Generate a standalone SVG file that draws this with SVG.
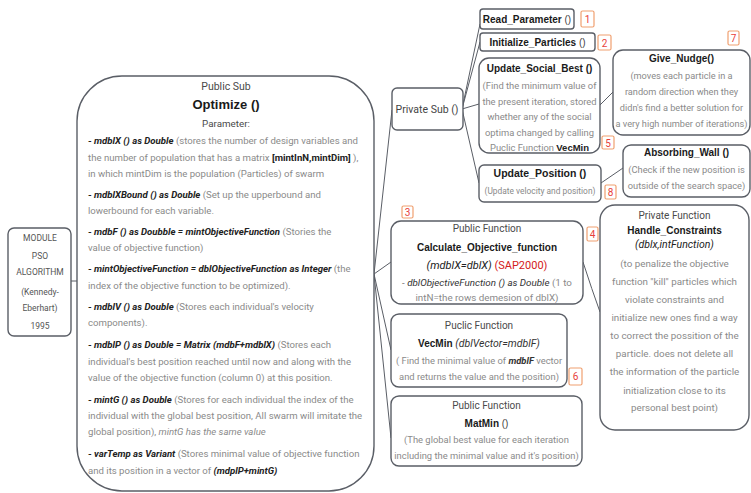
<svg xmlns="http://www.w3.org/2000/svg" width="751" height="493" viewBox="0 0 751 493">
<style>
.box{fill:#fff;stroke:#5a5e66;stroke-width:1.4}
.con{fill:none;stroke:#5a5e66;stroke-width:1}
.tag rect{fill:#fff;stroke:#f0a070;stroke-width:1.2}
.tag text{fill:#e8403a;font-family:Roboto,"Liberation Sans",sans-serif;font-size:10px;text-anchor:middle}
.t{font-family:"Liberation Sans",Arial,sans-serif;font-weight:bold;font-size:10px;fill:#1a1a1a;text-anchor:middle}
.h{font-family:Roboto,"Liberation Sans",sans-serif;font-size:10px;fill:#4a4a4a;text-anchor:middle}
.b{font-family:Roboto,"Liberation Sans",sans-serif;font-size:9.4px;fill:#8a8a8a;text-anchor:middle}
.o{font-family:Roboto,"Liberation Sans",sans-serif;font-size:9.6px;fill:#8a8a8a}
.v{font-weight:bold;font-style:italic;fill:#222}
.i{font-style:italic}
.k{font-weight:bold;fill:#222}
.n{font-weight:normal;fill:#444}
</style>
<g id="connectors">
<path class="con" d="M71,281 L77,281"/>
<path class="con" d="M374,274 L392,110"/>
<path class="con" d="M374,274 L391,262"/>
<path class="con" d="M374,274 L391,350"/>
<path class="con" d="M374,274 L391,438"/>
<path class="con" d="M462,109 L480,24"/>
<path class="con" d="M462,109 L480,42"/>
<path class="con" d="M462,109 L479,104"/>
<path class="con" d="M462,109 L479,183"/>
<path class="con" d="M600,105 L613,92"/>
<path class="con" d="M601,183 L623,168"/>
<path class="con" d="M583,262 Q592,290 600,312"/>
</g>
<g id="module">
<rect class="box" x="8" y="228" width="63" height="108" rx="6"/>
<g class="h" style="font-size:8.5px;fill:#555">
<text x="40" y="241">MODULE</text>
<text x="40" y="259">PSO</text>
<text x="40" y="275">ALGORITHM</text>
<text x="40" y="295">(Kennedy-</text>
<text x="40" y="311">Eberhart)</text>
<text x="40" y="329">1995</text>
</g>
</g>
<g id="optimize">
<rect class="box" x="77" y="76" width="297" height="415" rx="45"/>
<text class="h" x="226" y="90" style="font-size:10.5px">Public Sub</text>
<text class="t" x="226" y="109" style="font-size:13px">Optimize ()</text>
<text class="h" x="226" y="127" style="font-size:9.8px">Parameter:</text>
<g class="o">
<text x="88" y="144"><tspan class="v">- mdblX () as Double</tspan> (stores the number of design variables and</text>
<text x="88" y="161">the number of population that has a matrix <tspan class="k">[mintInN,mintDim]</tspan> ),</text>
<text x="88" y="177">in which mintDim is the population (Particles) of swarm</text>
<text x="88" y="198"><tspan class="v">- mdblXBound () as Double</tspan> (Set up the upperbound and</text>
<text x="88" y="214">lowerbound for each variable.</text>
<text x="88" y="235"><tspan class="v">- mdbF () as Doubble = mintObjectiveFunction</tspan>  (Stories the</text>
<text x="88" y="251">value of objective function)</text>
<text x="88" y="272"><tspan class="v">- mintObjectiveFunction = dblObjectiveFunction as Integer</tspan> (the</text>
<text x="88" y="289">index of the objective function to be optimized).</text>
<text x="88" y="310"><tspan class="v">- mdblV () as Double</tspan> (Stores each individual's velocity</text>
<text x="88" y="326">components).</text>
<text x="88" y="348"><tspan class="v">- mdblP () as Double = Matrix (mdbF+mdblX)</tspan> (Stores each</text>
<text x="88" y="365">individual's best position reached until now and along with the</text>
<text x="88" y="381">value of the objective function (column 0) at this position.</text>
<text x="88" y="403"><tspan class="v">- mintG () as Double</tspan> (Stores for each individual the index of the</text>
<text x="88" y="419">individual with the global best position, All swarm will imitate the</text>
<text x="88" y="435">global position), <tspan class="i">mintG has the same value</tspan></text>
<text x="88" y="457"><tspan class="v">- varTemp as Variant</tspan> (Stores minimal value of objective function</text>
<text x="88" y="474">and its position in a vector of <tspan class="v">(mdplP+mintG)</tspan></text>
</g>
</g>
<g id="private_sub">
<rect class="box" x="392" y="88" width="71" height="42" rx="5"/>
<text class="h" x="427" y="113" style="font-size:10.5px;fill:#444">Private Sub ()</text>
</g>
<g id="read_parameter">
<rect class="box" x="480" y="9" width="94" height="20" rx="3"/>
<text class="t" x="527" y="23">Read_Parameter<tspan class="n"> ()</tspan></text>
<g class="tag"><rect x="581" y="11" width="13" height="16" rx="1.5"/><text x="587.5" y="23">1</text></g>
</g>
<g id="initialize_particles">
<rect class="box" x="480" y="33" width="115" height="18" rx="3"/>
<text class="t" x="537.5" y="46">Initialize_Particles<tspan class="n"> ()</tspan></text>
<g class="tag"><rect x="598" y="35" width="13" height="15" rx="1.5"/><text x="604.5" y="46.5">2</text></g>
</g>
<g id="update_social_best">
<rect class="box" x="479" y="58" width="121" height="95" rx="10"/>
<text class="t" x="539.5" y="72">Update_Social_Best ()</text>
<g class="b">
<text x="539.5" y="89">(Find the minimum value of</text>
<text x="539.5" y="104.5">the present iteration, stored</text>
<text x="539.5" y="120">whether any of the social</text>
<text x="539.5" y="135.5">optima changed by calling</text>
<text x="539.5" y="150.5">Puclic Function <tspan class="k" style="font-family:'Liberation Sans',Arial,sans-serif;font-size:9.5px">VecMin</tspan></text>
</g>
<g class="tag"><rect x="602" y="136" width="12" height="13" rx="1.5"/><text x="608" y="146.5">5</text></g>
</g>
<g id="update_position">
<rect class="box" x="479" y="165" width="122" height="37" rx="5"/>
<text class="t" x="540" y="177" style="font-size:10.5px">Update_Position ()</text>
<text class="b" x="540" y="194" style="font-size:8.4px">(Update velocity and position)</text>
<g class="tag"><rect x="605" y="185" width="11" height="14" rx="1.5"/><text x="610.5" y="196">8</text></g>
</g>
<g id="give_nudge">
<rect class="box" x="613" y="50" width="137" height="85" rx="10"/>
<text class="t" x="681.5" y="62">Give_Nudge()</text>
<g class="b" style="font-size:9.2px">
<text x="681.5" y="79">(moves each particle in a</text>
<text x="681.5" y="95">random direction when they</text>
<text x="681.5" y="111">didn's find a better solution for</text>
<text x="681.5" y="127">a very high number of iterations)</text>
</g>
<g class="tag"><rect x="728" y="31" width="11" height="14" rx="1.5"/><text x="733.5" y="42">7</text></g>
</g>
<g id="absorbing_wall">
<rect class="box" x="623" y="145" width="127" height="52" rx="8"/>
<text class="t" x="686.5" y="156">Absorbing_Wall ()</text>
<g class="b" style="font-size:9.3px">
<text x="686.5" y="173">(Check if the new position is</text>
<text x="686.5" y="189">outside of the search space)</text>
</g>
</g>
<g id="calculate_objective_function">
<rect class="box" x="391" y="221" width="192" height="83" rx="10"/>
<text class="h" x="487" y="231.5">Public Function</text>
<text class="t" x="487" y="251">Calculate_Objective_function</text>
<text class="h" x="487" y="269" style="fill:#222;font-size:11px"><tspan class="i">(mdblX=dblX)</tspan> <tspan style="fill:#d42020">(SAP2000)</tspan></text>
<g class="b" style="font-size:9.8px">
<text x="487" y="286"><tspan class="i" style="fill:#333">- dblObjectiveFunction () as Double</tspan> (1 to</text>
<text x="487" y="301">intN=the rows demesion of dblX)</text>
</g>
<g class="tag"><rect x="402" y="206" width="11" height="12" rx="1.5"/><text x="407.5" y="215.5">3</text></g>
<g class="tag"><rect x="587" y="227" width="11" height="14" rx="1.5"/><text x="592.5" y="238">4</text></g>
</g>
<g id="vecmin">
<rect class="box" x="391" y="314" width="176" height="73" rx="8"/>
<text class="h" x="479" y="329">Puclic Function</text>
<text class="t" x="479" y="347">VecMin <tspan class="n i" style="font-family:Roboto,sans-serif;fill:#333;font-size:10.5px">(dblVector=mdblF)</tspan></text>
<g class="b">
<text x="479" y="364">( Find the minimal value of <tspan class="v" style="fill:#333">mdblF</tspan> vector</text>
<text x="479" y="380">and returns the value and the position)</text>
</g>
<g class="tag"><rect x="569" y="368" width="13" height="17" rx="1.5"/><text x="575.5" y="380">6</text></g>
</g>
<g id="matmin">
<rect class="box" x="391" y="396" width="191" height="70" rx="8"/>
<text class="h" x="486.5" y="409">Public Function</text>
<text class="t" x="486.5" y="427">MatMin <tspan class="n">()</tspan></text>
<g class="b">
<text x="486.5" y="443">(The global best value for each iteration</text>
<text x="486.5" y="459">including the minimal value and it's position)</text>
</g>
</g>
<g id="handle_constraints">
<rect class="box" x="600" y="205" width="149" height="225" rx="15"/>
<text class="h" x="674.5" y="219">Private Function</text>
<text class="t" x="674.5" y="234">Handle_Constraints</text>
<text class="h i" x="674.5" y="248" style="fill:#222;font-size:10.5px">(dblx,intFunction)</text>
<g class="b" style="font-size:9.8px">
<text x="674.5" y="267">(to penalize the objective</text>
<text x="674.5" y="285">function "kill" particles which</text>
<text x="674.5" y="303">violate constraints and</text>
<text x="674.5" y="321">initialize new ones find a way</text>
<text x="674.5" y="339">to correct the possition of the</text>
<text x="674.5" y="357">particle. does not delete all</text>
<text x="674.5" y="375">the information of the particle</text>
<text x="674.5" y="394">initialization close to its</text>
<text x="674.5" y="411">personal best point)</text>
</g>
</g>
</svg>
